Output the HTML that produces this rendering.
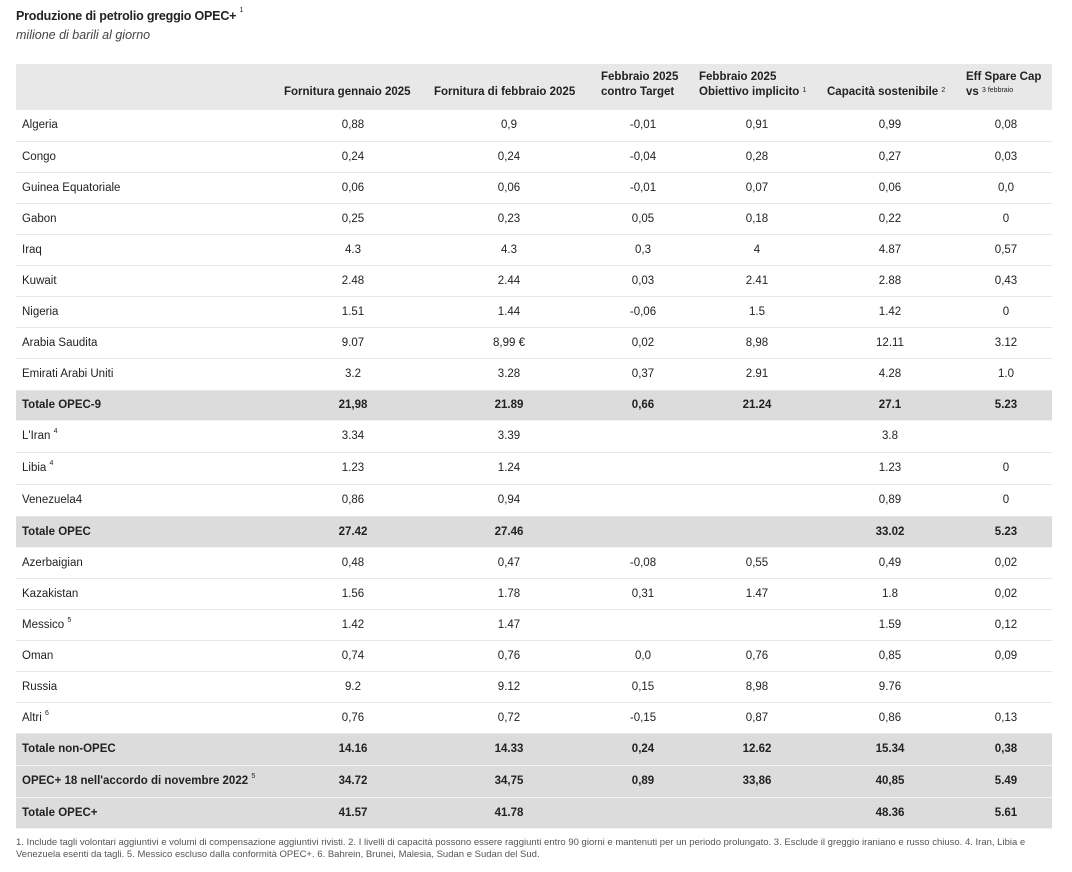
<!DOCTYPE html>
<html><head><meta charset="utf-8"><style>
body{margin:0;width:1072px;height:872px;background:#fff;font-family:"Liberation Sans",sans-serif;color:#222;position:relative;overflow:hidden}
.t{position:absolute;left:16px;top:9px;font-size:12.5px;font-weight:bold;letter-spacing:-0.2px}
.s{position:absolute;left:16px;top:28px;font-size:12.5px;font-style:italic;color:#444}
sup{font-size:7px;vertical-align:top;position:relative;top:-2px;font-weight:normal}
table{position:absolute;left:16px;top:64px;width:1036px;border-collapse:collapse;font-size:11.5px;table-layout:fixed}
td,th{padding:0;text-align:center;border-bottom:1px solid #e6e6e6}
td:first-child{text-align:left;padding-left:6px}
thead tr{background:#e8e8e8;height:46px}
th{font-weight:bold;vertical-align:bottom;padding-bottom:10px;line-height:15px;font-size:11.5px;border:none;text-align:left;white-space:nowrap}
tr.g{background:#dcdcdc;font-weight:bold}
tr.g td{border-bottom:1px solid #f3f3f3}
.f{position:absolute;left:16px;top:837px;font-size:9.5px;line-height:12px;color:#555;width:1040px;white-space:nowrap}
</style></head><body>
<div class="t">Produzione di petrolio greggio OPEC+ <sup>1</sup></div>
<div class="s">milione di barili al giorno</div>
<table>
<colgroup><col style="width:264px"><col style="width:146px"><col style="width:166px"><col style="width:102px"><col style="width:126px"><col style="width:140px"><col style="width:92px"></colgroup>
<thead><tr><th></th><th style="padding-left:4px">Fornitura gennaio 2025</th><th style="padding-left:8px">Fornitura di febbraio 2025</th><th style="padding-left:9px">Febbraio 2025<br>contro Target</th><th style="padding-left:5px">Febbraio 2025<br>Obiettivo implicito <sup>1</sup></th><th style="padding-left:7px">Capacità sostenibile <sup>2</sup></th><th style="padding-left:6px">Eff Spare Cap<br>vs <sup>3 febbraio</sup></th></tr></thead>
<tbody>
<tr style="height:31px"><td>Algeria</td><td>0,88</td><td>0,9</td><td>-0,01</td><td>0,91</td><td>0,99</td><td>0,08</td></tr>
<tr style="height:31px"><td>Congo</td><td>0,24</td><td>0,24</td><td>-0,04</td><td>0,28</td><td>0,27</td><td>0,03</td></tr>
<tr style="height:31px"><td>Guinea Equatoriale</td><td>0,06</td><td>0,06</td><td>-0,01</td><td>0,07</td><td>0,06</td><td>0,0</td></tr>
<tr style="height:31px"><td>Gabon</td><td>0,25</td><td>0,23</td><td>0,05</td><td>0,18</td><td>0,22</td><td>0</td></tr>
<tr style="height:31px"><td>Iraq</td><td>4.3</td><td>4.3</td><td>0,3</td><td>4</td><td>4.87</td><td>0,57</td></tr>
<tr style="height:31px"><td>Kuwait</td><td>2.48</td><td>2.44</td><td>0,03</td><td>2.41</td><td>2.88</td><td>0,43</td></tr>
<tr style="height:31px"><td>Nigeria</td><td>1.51</td><td>1.44</td><td>-0,06</td><td>1.5</td><td>1.42</td><td>0</td></tr>
<tr style="height:31px"><td>Arabia Saudita</td><td>9.07</td><td>8,99 €</td><td>0,02</td><td>8,98</td><td>12.11</td><td>3.12</td></tr>
<tr style="height:32px"><td>Emirati Arabi Uniti</td><td>3.2</td><td>3.28</td><td>0,37</td><td>2.91</td><td>4.28</td><td>1.0</td></tr>
<tr class="g" style="height:30px"><td>Totale OPEC-9</td><td>21,98</td><td>21.89</td><td>0,66</td><td>21.24</td><td>27.1</td><td>5.23</td></tr>
<tr style="height:32px"><td>L'Iran <sup>4</sup></td><td>3.34</td><td>3.39</td><td></td><td></td><td>3.8</td><td></td></tr>
<tr style="height:32px"><td>Libia <sup>4</sup></td><td>1.23</td><td>1.24</td><td></td><td></td><td>1.23</td><td>0</td></tr>
<tr style="height:32px"><td>Venezuela4</td><td>0,86</td><td>0,94</td><td></td><td></td><td>0,89</td><td>0</td></tr>
<tr class="g" style="height:31px"><td>Totale OPEC</td><td>27.42</td><td>27.46</td><td></td><td></td><td>33.02</td><td>5.23</td></tr>
<tr style="height:31px"><td>Azerbaigian</td><td>0,48</td><td>0,47</td><td>-0,08</td><td>0,55</td><td>0,49</td><td>0,02</td></tr>
<tr style="height:31px"><td>Kazakistan</td><td>1.56</td><td>1.78</td><td>0,31</td><td>1.47</td><td>1.8</td><td>0,02</td></tr>
<tr style="height:31px"><td>Messico <sup>5</sup></td><td>1.42</td><td>1.47</td><td></td><td></td><td>1.59</td><td>0,12</td></tr>
<tr style="height:31px"><td>Oman</td><td>0,74</td><td>0,76</td><td>0,0</td><td>0,76</td><td>0,85</td><td>0,09</td></tr>
<tr style="height:31px"><td>Russia</td><td>9.2</td><td>9.12</td><td>0,15</td><td>8,98</td><td>9.76</td><td></td></tr>
<tr style="height:31px"><td>Altri <sup>6</sup></td><td>0,76</td><td>0,72</td><td>-0,15</td><td>0,87</td><td>0,86</td><td>0,13</td></tr>
<tr class="g" style="height:32px"><td>Totale non-OPEC</td><td>14.16</td><td>14.33</td><td>0,24</td><td>12.62</td><td>15.34</td><td>0,38</td></tr>
<tr class="g" style="height:32px"><td>OPEC+ 18 nell'accordo di novembre 2022 <sup>5</sup></td><td>34.72</td><td>34,75</td><td>0,89</td><td>33,86</td><td>40,85</td><td>5.49</td></tr>
<tr class="g" style="height:31px"><td>Totale OPEC+</td><td>41.57</td><td>41.78</td><td></td><td></td><td>48.36</td><td>5.61</td></tr>
</tbody></table>
<div class="f">1. Include tagli volontari aggiuntivi e volumi di compensazione aggiuntivi rivisti. 2. I livelli di capacità possono essere raggiunti entro 90 giorni e mantenuti per un periodo prolungato. 3. Esclude il greggio iraniano e russo chiuso. 4. Iran, Libia e<br>Venezuela esenti da tagli. 5. Messico escluso dalla conformità OPEC+. 6. Bahrein, Brunei, Malesia, Sudan e Sudan del Sud.</div>
</body></html>
